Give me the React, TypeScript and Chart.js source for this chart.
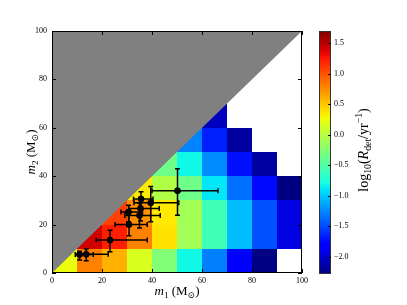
import React, { useEffect, useRef } from "react";
import { Chart, registerables } from "chart.js";

Chart.register(...registerables);

// ---- data ----
const m1Edges = [0, 10, 20, 30, 40, 50, 60, 70, 80, 90, 100];
const m2Edges = [0, 10, 20, 30, 40, 50, 60, 70, 80, 90, 100];

// log10(R_det / yr^-1) per (m1 bin) for each m2 bin
const rateM2_0_10: (number | null)[] = [0.25, 0.8, 0.6, 0.16, -0.27, -0.81, -1.285, -1.8, -2.27, null];
const rateM2_10_20: (number | null)[] = [null, 1.42, 1.21, 0.8, 0.39, -0.11, -0.58, -1.04, -1.47, -1.95];
const rateM2_20_30: (number | null)[] = [null, null, 1.07, 0.74, 0.36, -0.11, -0.58, -1.04, -1.47, -1.95];
const rateM2_30_40: (number | null)[] = [null, null, null, 0.35, -0.035, -0.35, -0.88, -1.345, -1.75, -2.27];
const rateM2_40_50: (number | null)[] = [null, null, null, null, -0.35, -0.81, -1.24, -1.72, -2.17, null];
const rateM2_50_60: (number | null)[] = [null, null, null, null, null, -1.27, -1.66, -2.17, null, null];
const rateM2_60_70: (number | null)[] = [null, null, null, null, null, null, -2.06, null, null, null];
const rateM2_70_80: (number | null)[] = [null, null, null, null, null, null, null, null, null, null];
const rateM2_80_90: (number | null)[] = [null, null, null, null, null, null, null, null, null, null];
const rateM2_90_100: (number | null)[] = [null, null, null, null, null, null, null, null, null, null];
const rateRows = [
  rateM2_0_10, rateM2_10_20, rateM2_20_30, rateM2_30_40, rateM2_40_50,
  rateM2_50_60, rateM2_60_70, rateM2_70_80, rateM2_80_90, rateM2_90_100,
];

const colorMin = -2.28;
const colorMax = 1.7;
const colorTicks = [-2.0, -1.5, -1.0, -0.5, 0.0, 0.5, 1.0, 1.5];
const axisTicks = [0, 20, 40, 60, 80, 100];

// events (m1, m2 with asymmetric errors)
const eventNames = ["GW150914", "GW151012", "GW151226", "GW170104", "GW170608", "GW170729", "GW170809", "GW170814", "GW170818", "GW170823"];
const eventM1 = [35.6, 23.2, 13.7, 30.8, 11.0, 50.2, 35.0, 30.6, 35.4, 39.5];
const eventM1Plus = [4.8, 14.9, 8.8, 7.3, 5.5, 16.2, 8.3, 5.6, 7.5, 11.2];
const eventM1Minus = [3.0, 5.5, 3.2, 5.6, 1.7, 10.2, 5.9, 3.0, 4.7, 6.7];
const eventM2 = [30.6, 13.6, 7.7, 20.0, 7.6, 34.0, 23.8, 25.2, 26.7, 29.0];
const eventM2Plus = [3.0, 4.1, 2.2, 4.9, 1.4, 9.1, 5.1, 2.8, 4.3, 6.7];
const eventM2Minus = [4.4, 4.8, 2.6, 4.6, 2.2, 10.1, 5.2, 4.0, 5.2, 7.8];

// ---- helpers ----
const FONT = '"Liberation Serif", "DejaVu Serif", serif';

function interp(stops: number[][], t: number) {
  for (let k = 1; k < stops.length; k++) {
    if (t <= stops[k][0]) {
      const [t0, v0] = stops[k - 1];
      const [t1, v1] = stops[k];
      return v0 + ((v1 - v0) * (t - t0)) / (t1 - t0 || 1);
    }
  }
  return stops[stops.length - 1][1];
}
const JET_R = [[0, 0], [0.35, 0], [0.66, 1], [0.89, 1], [1, 0.5]];
const JET_G = [[0, 0], [0.125, 0], [0.375, 1], [0.64, 1], [0.91, 0], [1, 0]];
const JET_B = [[0, 0.5], [0.11, 1], [0.34, 1], [0.65, 0], [1, 0]];
function jet(t: number) {
  const c = Math.max(0, Math.min(1, t));
  const r = Math.round(interp(JET_R, c) * 255);
  const g = Math.round(interp(JET_G, c) * 255);
  const b = Math.round(interp(JET_B, c) * 255);
  return `rgb(${r},${g},${b})`;
}

type Seg = { t: string; it?: boolean; sub?: boolean; sup?: boolean };
function drawRich(ctx: CanvasRenderingContext2D, segs: Seg[], cx: number, cy: number, rot: number, size: number) {
  ctx.save();
  ctx.translate(cx, cy);
  ctx.rotate(rot);
  ctx.fillStyle = "#000";
  ctx.textBaseline = "alphabetic";
  ctx.textAlign = "left";
  const fontOf = (s: Seg) => `${s.it ? "italic " : ""}${s.sub || s.sup ? size * 0.7 : size}px ${FONT}`;
  let total = 0;
  const widths = segs.map((s) => {
    ctx.font = fontOf(s);
    const w = ctx.measureText(s.t).width;
    total += w;
    return w;
  });
  let x = -total / 2;
  const base = size * 0.33;
  segs.forEach((s, k) => {
    ctx.font = fontOf(s);
    const dy = s.sub ? size * 0.22 : s.sup ? -size * 0.4 : 0;
    ctx.fillText(s.t, x, base + dy);
    x += widths[k];
  });
  ctx.restore();
}

const mainPlugin = {
  id: "massGrid",
  beforeDatasetsDraw(chart: any) {
    const { ctx, chartArea: a, scales } = chart;
    const x = scales.x;
    const y = scales.y;
    ctx.save();
    ctx.beginPath();
    ctx.rect(a.left, a.top, a.right - a.left, a.bottom - a.top);
    ctx.clip();
    rateRows.forEach((row, j) => {
      row.forEach((v, i) => {
        if (v === null) return;
        const x0 = Math.round(x.getPixelForValue(m1Edges[i]));
        const x1 = Math.round(x.getPixelForValue(m1Edges[i + 1]));
        const y0 = Math.round(y.getPixelForValue(m2Edges[j]));
        const y1 = Math.round(y.getPixelForValue(m2Edges[j + 1]));
        ctx.fillStyle = jet((v - colorMin) / (colorMax - colorMin));
        ctx.fillRect(x0, y1, x1 - x0, y0 - y1);
      });
    });
    // excluded region m2 > m1
    ctx.beginPath();
    ctx.moveTo(x.getPixelForValue(0), y.getPixelForValue(0));
    ctx.lineTo(x.getPixelForValue(0), y.getPixelForValue(100));
    ctx.lineTo(x.getPixelForValue(100), y.getPixelForValue(100));
    ctx.closePath();
    ctx.fillStyle = "#808080";
    ctx.fill();
    // error bars
    ctx.strokeStyle = "#000";
    ctx.lineWidth = 1.5;
    const cap = 2.5;
    eventNames.forEach((_, k) => {
      const px = x.getPixelForValue(eventM1[k]);
      const py = y.getPixelForValue(eventM2[k]);
      const xl = x.getPixelForValue(eventM1[k] - eventM1Minus[k]);
      const xr = x.getPixelForValue(eventM1[k] + eventM1Plus[k]);
      const yb = y.getPixelForValue(eventM2[k] - eventM2Minus[k]);
      const yt = y.getPixelForValue(eventM2[k] + eventM2Plus[k]);
      ctx.beginPath();
      ctx.moveTo(xl, py); ctx.lineTo(xr, py);
      ctx.moveTo(xl, py - cap); ctx.lineTo(xl, py + cap);
      ctx.moveTo(xr, py - cap); ctx.lineTo(xr, py + cap);
      ctx.moveTo(px, yb); ctx.lineTo(px, yt);
      ctx.moveTo(px - cap, yb); ctx.lineTo(px + cap, yb);
      ctx.moveTo(px - cap, yt); ctx.lineTo(px + cap, yt);
      ctx.stroke();
    });
    ctx.restore();
  },
  afterDraw(chart: any) {
    const { ctx, chartArea: a, scales } = chart;
    const x = scales.x;
    const y = scales.y;
    ctx.save();
    ctx.strokeStyle = "#000";
    ctx.lineWidth = 1;
    ctx.strokeRect(a.left + 0.5, a.top + 0.5, a.right - a.left - 1, a.bottom - a.top - 1);
    const tl = 4;
    ctx.beginPath();
    axisTicks.forEach((v) => {
      const px = Math.round(x.getPixelForValue(v)) + 0.5;
      ctx.moveTo(px, a.bottom); ctx.lineTo(px, a.bottom - tl);
      ctx.moveTo(px, a.top); ctx.lineTo(px, a.top + tl);
      const py = Math.round(y.getPixelForValue(v)) + 0.5;
      ctx.moveTo(a.left, py); ctx.lineTo(a.left + tl, py);
      ctx.moveTo(a.right, py); ctx.lineTo(a.right - tl, py);
    });
    ctx.stroke();
    ctx.restore();
    drawRich(ctx, [{ t: "m", it: true }, { t: "1", sub: true }, { t: " (M" }, { t: "⊙", sub: true }, { t: ")" }],
      (a.left + a.right) / 2, 291, 0, 13);
    drawRich(ctx, [{ t: "m", it: true }, { t: "2", sub: true }, { t: " (M" }, { t: "⊙", sub: true }, { t: ")" }],
      31, (a.top + a.bottom) / 2, -Math.PI / 2, 13);
  },
};

const colorbarPlugin = {
  id: "colorbarFill",
  beforeDraw(chart: any) {
    const { ctx, chartArea: a, scales } = chart;
    const y = scales.y;
    const yLo = y.getPixelForValue(colorMin);
    const yHi = y.getPixelForValue(colorMax);
    const grad = ctx.createLinearGradient(0, yLo, 0, yHi);
    for (let k = 0; k <= 64; k++) grad.addColorStop(k / 64, jet(k / 64));
    ctx.save();
    ctx.fillStyle = grad;
    ctx.fillRect(a.left, a.top, a.right - a.left, a.bottom - a.top);
    ctx.restore();
  },
  afterDraw(chart: any) {
    const { ctx, chartArea: a, scales } = chart;
    const y = scales.y;
    ctx.save();
    ctx.strokeStyle = "#333";
    ctx.lineWidth = 1;
    ctx.strokeRect(a.left + 0.5, a.top + 0.5, a.right - a.left - 1, a.bottom - a.top - 1);
    ctx.strokeStyle = "#000";
    ctx.beginPath();
    colorTicks.forEach((v) => {
      const py = Math.round(y.getPixelForValue(v)) + 0.5;
      ctx.moveTo(a.right, py); ctx.lineTo(a.right - 3, py);
    });
    ctx.stroke();
    ctx.restore();
    drawRich(ctx, [
      { t: "log" }, { t: "10", sub: true }, { t: "(" }, { t: "R", it: true }, { t: "det", sub: true },
      { t: "/yr" }, { t: "−1", sup: true }, { t: ")" },
    ], 63, 150, -Math.PI / 2, 14);
  },
};

export default function App() {
  const mainRef = useRef<HTMLCanvasElement | null>(null);
  const barRef = useRef<HTMLCanvasElement | null>(null);

  useEffect(() => {
    const tickFont = { family: FONT, size: 8 };
    const main = new Chart(mainRef.current as HTMLCanvasElement, {
      type: "scatter",
      data: {
        datasets: [
          {
            data: eventNames.map((_, k) => ({ x: eventM1[k], y: eventM2[k] })),
            pointRadius: 3,
            pointHoverRadius: 3,
            backgroundColor: "#000",
            borderColor: "#000",
          },
        ],
      },
      options: {
        responsive: false,
        animation: false,
        events: [],
        layout: { padding: { left: 0, top: 31, right: 105, bottom: 0 } },
        plugins: { legend: { display: false }, tooltip: { enabled: false } },
        scales: {
          x: {
            type: "linear",
            min: 0,
            max: 100,
            afterBuildTicks: (s: any) => { s.ticks = axisTicks.map((v) => ({ value: v })); },
            ticks: { font: tickFont, color: "#000", padding: 3, maxRotation: 0, autoSkip: false },
            grid: { display: false, drawTicks: false, tickLength: 0 },
            border: { display: false },
            afterFit: (s: any) => { s.height = 32; },
          },
          y: {
            type: "linear",
            min: 0,
            max: 100,
            afterBuildTicks: (s: any) => { s.ticks = axisTicks.map((v) => ({ value: v })); },
            ticks: { font: tickFont, color: "#000", padding: 5, autoSkip: false },
            grid: { display: false, drawTicks: false, tickLength: 0 },
            border: { display: false },
            afterFit: (s: any) => { s.width = 52; },
          },
        },
      } as any,
      plugins: [mainPlugin],
    });

    const bar = new Chart(barRef.current as HTMLCanvasElement, {
      type: "scatter",
      data: { datasets: [] },
      options: {
        responsive: false,
        animation: false,
        events: [],
        layout: { padding: { left: 19, top: 31, right: 0, bottom: 31 } },
        plugins: { legend: { display: false }, tooltip: { enabled: false } },
        scales: {
          x: { display: false, min: 0, max: 1 },
          y: {
            type: "linear",
            position: "right",
            min: colorMin,
            max: colorMax,
            afterBuildTicks: (s: any) => { s.ticks = colorTicks.map((v) => ({ value: v })); },
            ticks: {
              font: tickFont,
              color: "#000",
              padding: 3,
              autoSkip: false,
              callback: (v: any) => {
                const n = Number(v);
                const s = Math.abs(n).toFixed(1);
                return n < 0 ? "−" + s : s;
              },
            },
            grid: { display: false, drawTicks: false, tickLength: 0 },
            border: { display: false },
            afterFit: (s: any) => { s.width = 76; },
          },
        },
      } as any,
      plugins: [colorbarPlugin],
    });

    return () => {
      main.destroy();
      bar.destroy();
    };
  }, []);

  return (
    <div style={{ position: "fixed", left: 0, top: 0, width: 407, height: 305, background: "#fff" }}>
      <canvas ref={mainRef} width={407} height={305} style={{ position: "absolute", left: 0, top: 0 }} />
      <canvas ref={barRef} width={107} height={305} style={{ position: "absolute", left: 300, top: 0 }} />
    </div>
  );
}
